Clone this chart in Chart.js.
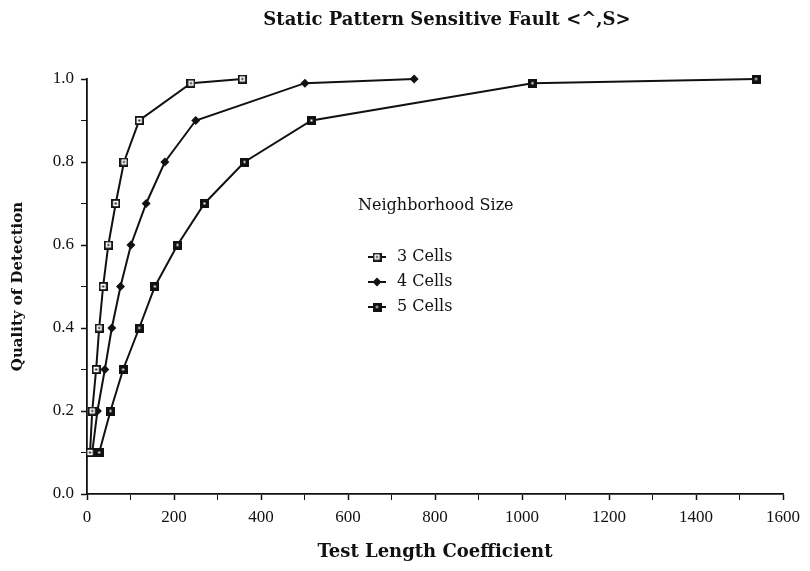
<!DOCTYPE html>
<html>
<head>
<meta charset="utf-8">
<script src="https://cdn.jsdelivr.net/npm/chart.js@4.4.0/dist/chart.umd.min.js"></script>
<style>
  html, body { margin: 0; padding: 0; background: #fff; }
  #wrap { width: 810px; height: 571px; }
</style>
</head>
<body>
<div id="wrap"><canvas id="myChart" width="810" height="571"></canvas></div>
<script>
// quality of detection reached at each point
const qualityLevels = [0.1, 0.2, 0.3, 0.4, 0.5, 0.6, 0.7, 0.8, 0.9, 0.99, 1.0];

// test length coefficient needed for each level, per neighborhood size
const cells3 = [7, 12, 21, 28, 37, 49, 66, 85, 120, 239, 357];
const cells4 = [12, 24, 41, 57, 77, 101, 136, 179, 250, 501, 752];
const cells5 = [28, 54, 83, 120, 156, 208, 270, 362, 516, 1024, 1538];

const seriesNames = ['3 Cells', '4 Cells', '5 Cells'];
const xTicks = [0, 200, 400, 600, 800, 1000, 1200, 1400, 1600];
const yTicks = [0.0, 0.2, 0.4, 0.6, 0.8, 1.0];

const chartTitle = 'Static Pattern Sensitive Fault <^,S>';
const legendTitle = 'Neighborhood Size';

const serif = "'Liberation Serif'";
const wideSerif = "'DejaVu Serif'";
const ink = '#111';

// small marker images
function openSquare() {
    const c = document.createElement('canvas');
    c.width = 9; c.height = 9;
    const g = c.getContext('2d');
    g.fillStyle = '#fff';
    g.fillRect(0, 0, 9, 9);
    g.strokeStyle = ink;
    g.lineWidth = 1.8;
    g.strokeRect(0.9, 0.9, 7.2, 7.2);
    g.fillStyle = ink;
    g.fillRect(3.5, 3.5, 2, 2);
    return c;
}
function blackSquare() {
    const c = document.createElement('canvas');
    c.width = 9; c.height = 9;
    const g = c.getContext('2d');
    g.fillStyle = ink;
    g.fillRect(0, 0, 9, 9);
    g.fillStyle = '#fff';
    g.fillRect(3.5, 3.5, 2, 2);
    return c;
}

function pairs(xs) {
    return xs.map((x, i) => ({ x: x, y: qualityLevels[i] }));
}

// title and legend drawn by hand, placed like the original figure
const annotations = {
    id: 'annotations',
    afterDraw(chart) {
        const ctx = chart.ctx;
        ctx.save();
        ctx.fillStyle = ink;
        ctx.textBaseline = 'middle';

        ctx.textAlign = 'center';
        ctx.font = "bold 18px " + wideSerif;
        ctx.fillText(chartTitle, 447, 20);

        ctx.textAlign = 'left';
        ctx.font = "16px " + wideSerif;
        ctx.fillText(legendTitle, 358, 206);
        chart.data.datasets.forEach((ds, i) => {
            const y = 257 + i * 25;
            ctx.strokeStyle = ink;
            ctx.lineWidth = 2;
            ctx.beginPath();
            ctx.moveTo(368, y);
            ctx.lineTo(386, y);
            ctx.stroke();
            const st = ds.pointStyle;
            if (typeof st === 'string') {
                ctx.fillStyle = ink;
                Chart.helpers.drawPoint(ctx, { pointStyle: st, radius: 4.5, borderWidth: 0 }, 377, y);
            } else {
                ctx.drawImage(st, 377 - st.width / 2, y - st.height / 2);
            }
            ctx.fillStyle = ink;
            ctx.fillText(ds.label, 397, y);
        });
        ctx.restore();
    }
};

function drawChart() {
    const markers = [openSquare(), 'rectRot', blackSquare()];
    const columns = [cells3, cells4, cells5];

    const datasets = seriesNames.map((name, i) => ({
        label: name,
        data: pairs(columns[i]),
        borderColor: ink,
        backgroundColor: ink,
        borderWidth: 2,
        pointStyle: markers[i],
        pointRadius: 4.5,
        pointBorderWidth: 0,
        tension: 0,
        clip: false
    }));

    const ctx = document.getElementById('myChart').getContext('2d');

    new Chart(ctx, {
        type: 'line',
        data: { datasets: datasets },
        plugins: [annotations],
        options: {
            responsive: false,
            animation: false,
            layout: { padding: { left: 0, right: 27, top: 79, bottom: 0 } },
            plugins: {
                legend: { display: false },
                tooltip: { enabled: false },
                title: { display: false }
            },
            scales: {
                x: {
                    type: 'linear',
                    min: 0,
                    max: 1600,
                    afterFit(scale) { scale.height = 77; },
                    afterBuildTicks(scale) {
                        const t = [];
                        for (let v = 0; v <= 1600; v += 100) t.push({ value: v });
                        scale.ticks = t;
                    },
                    ticks: {
                        autoSkip: false,
                        maxRotation: 0,
                        padding: 7,
                        color: ink,
                        font: { family: serif, size: 17 },
                        callback: v => xTicks.includes(v) ? String(v) : ''
                    },
                    grid: {
                        drawOnChartArea: false,
                        drawTicks: true,
                        tickLength: 6,
                        tickColor: ink,
                        tickWidth: c => (c.tick && xTicks.includes(c.tick.value)) ? 1.5 : 1
                    },
                    border: { color: ink, width: 1.8 },
                    title: {
                        display: true,
                        text: 'Test Length Coefficient',
                        color: ink,
                        font: { family: wideSerif, size: 18, weight: 'bold' },
                        padding: { top: 4, bottom: 8 }
                    }
                },
                y: {
                    min: 0,
                    max: 1,
                    afterFit(scale) { scale.width = 87; },
                    afterBuildTicks(scale) {
                        const t = [];
                        for (let k = 0; k <= 10; k++) t.push({ value: k / 10 });
                        scale.ticks = t;
                    },
                    ticks: {
                        autoSkip: false,
                        padding: 7,
                        color: ink,
                        font: { family: serif, size: 17 },
                        callback: v => yTicks.some(t => Math.abs(t - v) < 1e-6) ? v.toFixed(1) : ''
                    },
                    grid: {
                        drawOnChartArea: false,
                        drawTicks: true,
                        tickLength: 6,
                        tickColor: ink,
                        tickWidth: c => (c.tick && yTicks.some(t => Math.abs(t - c.tick.value) < 1e-6)) ? 1.5 : 1
                    },
                    border: { color: ink, width: 1.8 },
                    title: {
                        display: true,
                        text: 'Quality of Detection',
                        color: ink,
                        font: { family: wideSerif, size: 15, weight: 'bold' },
                        padding: { top: 9, bottom: 4 }
                    }
                }
            }
        }
    });
}

// make sure the local fonts are ready before the canvas uses them
Promise.all([
    document.fonts.load("16px 'Liberation Serif'"),
    document.fonts.load("16px 'DejaVu Serif'"),
    document.fonts.load("bold 16px 'DejaVu Serif'")
]).then(drawChart, drawChart);
</script>
</body>
</html>
